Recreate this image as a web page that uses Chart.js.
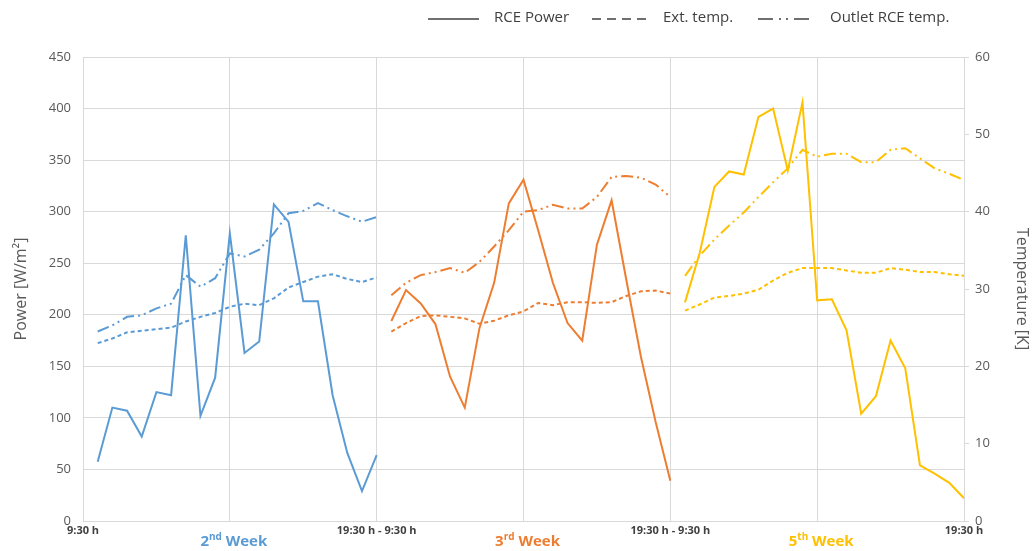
<!DOCTYPE html>
<html>
<head>
<meta charset="utf-8">
<script src="https://cdn.jsdelivr.net/npm/chart.js@4.4.1/dist/chart.umd.min.js"></script>
<style>
html,body{margin:0;padding:0;background:#fff;}
#wrap{width:1033px;height:551px;}
</style>
</head>
<body>
<div id="wrap"><canvas id="c" width="1033" height="551"></canvas></div>
<script>
// ---- data ----
const weekNums = ['2', '3', '5'];
const weekSuffix = ['nd', 'rd', 'th'];
const weekColors = ['#5B9BD5', '#ED7D31', '#FFC000'];
const pointsPerWeek = 20;

const xTickValues = [0, 20, 40, 60];
const xTickLabels = ['9:30 h', '19:30 h - 9:30 h', '19:30 h - 9:30 h', '19:30 h'];
const weekLabelValues = [10, 30, 50];

const seriesNames = ['RCE Power', 'Ext. temp.', 'Outlet RCE temp.'];

// RCE Power [W/m2]
const power2nd = [57.5, 110, 107, 82, 125, 122, 277, 102, 139, 279, 163, 174, 307, 290, 213, 213, 122, 66, 29, 64];
const power3rd = [194, 224, 211, 191, 140, 110, 187, 231, 308, 331, 282, 231, 192, 175, 268, 311, 234, 159, 96, 39];
const power5th = [212, 260, 324, 339, 336, 392, 400, 340, 406, 214, 215, 185, 104, 121, 175, 148, 54, 46, 37, 22];

// Ext. temp. [K]
const ext2nd = [23.0, 23.6, 24.4, 24.6, 24.8, 25.0, 25.8, 26.4, 26.9, 27.7, 28.1, 27.9, 28.8, 30.2, 30.9, 31.6, 31.9, 31.3, 30.9, 31.5];
const ext3rd = [24.5, 25.6, 26.5, 26.6, 26.4, 26.2, 25.5, 25.9, 26.6, 27.1, 28.2, 27.9, 28.3, 28.3, 28.2, 28.3, 29.1, 29.7, 29.8, 29.4];
const ext5th = [27.2, 28.0, 28.9, 29.1, 29.4, 29.9, 31.1, 32.1, 32.7, 32.7, 32.7, 32.4, 32.1, 32.1, 32.7, 32.5, 32.2, 32.2, 31.9, 31.7];

// Outlet RCE temp. [K]
const out2nd = [24.5, 25.3, 26.4, 26.6, 27.5, 28.1, 31.8, 30.3, 31.4, 34.6, 34.2, 35.1, 37.2, 39.8, 40.1, 41.1, 40.2, 39.4, 38.7, 39.3];
const out3rd = [29.2, 30.8, 31.8, 32.2, 32.7, 32.1, 33.5, 35.5, 37.6, 40.0, 40.2, 40.9, 40.4, 40.4, 41.9, 44.5, 44.6, 44.4, 43.5, 41.9];
const out5th = [31.7, 34.3, 36.4, 38.2, 39.9, 41.9, 43.8, 45.6, 48.0, 47.1, 47.5, 47.5, 46.4, 46.4, 48.0, 48.2, 46.9, 45.6, 44.9, 44.1];

const powerSeries = [power2nd, power3rd, power5th];
const extSeries = [ext2nd, ext3rd, ext5th];
const outSeries = [out2nd, out3rd, out5th];

// ---- styling ----
const FONT = '"Open Sans", "Liberation Sans", sans-serif';
Chart.defaults.font.family = FONT;
const GRID = '#d9d9d9';
const TXT = '#595959';
const extDash = [4, 3];
const outDash = [12, 4, 2, 4, 2, 4];

function toXY(values, weekIdx) {
  return values.map((v, j) => ({ x: weekIdx * pointsPerWeek + j + 1, y: v }));
}

const datasets = [];
weekNums.forEach((_, i) => {
  datasets.push({
    label: seriesNames[0], data: toXY(powerSeries[i], i), yAxisID: 'y',
    borderColor: weekColors[i], borderWidth: 2, pointRadius: 0, tension: 0, fill: false
  });
  datasets.push({
    label: seriesNames[1], data: toXY(extSeries[i], i), yAxisID: 'y1',
    borderColor: weekColors[i], borderWidth: 2, borderDash: extDash, pointRadius: 0, tension: 0, fill: false
  });
  datasets.push({
    label: seriesNames[2], data: toXY(outSeries[i], i), yAxisID: 'y1',
    borderColor: weekColors[i], borderWidth: 2, borderDash: outDash, pointRadius: 0, tension: 0, fill: false
  });
});

const legendLayout = [
  { x0: 428, x1: 479, tx: 494, dash: [] },
  { x0: 592, x1: 646, tx: 663, dash: [9, 6] },
  { x0: 758, x1: 810, tx: 830, dash: [15, 6, 2, 5, 2, 6] }
];

const customDraw = {
  id: 'customDraw',
  afterDraw(chart) {
    const ctx = chart.ctx;
    const xs = chart.scales.x;
    ctx.save();
    // legend
    const ly = 19;
    seriesNames.forEach((name, i) => {
      const L = legendLayout[i];
      ctx.beginPath();
      ctx.setLineDash(L.dash);
      ctx.strokeStyle = '#404040';
      ctx.lineWidth = 1.3;
      ctx.moveTo(L.x0, ly);
      ctx.lineTo(L.x1, ly);
      ctx.stroke();
      ctx.setLineDash([]);
      ctx.fillStyle = '#404040';
      ctx.font = '15px ' + FONT;
      ctx.textBaseline = 'middle';
      ctx.textAlign = 'left';
      ctx.fillText(name, L.tx, ly - 1);
    });
    // week labels
    ctx.textBaseline = 'alphabetic';
    weekNums.forEach((n, i) => {
      const cx = xs.getPixelForValue(weekLabelValues[i]) + 4;
      const base = 546;
      ctx.font = 'bold 15px ' + FONT;
      const w1 = ctx.measureText(n).width;
      const w3 = ctx.measureText(' Week').width;
      ctx.font = 'bold 10px ' + FONT;
      const w2 = ctx.measureText(weekSuffix[i]).width;
      let x = cx - (w1 + w2 + w3) / 2;
      ctx.fillStyle = weekColors[i];
      ctx.textAlign = 'left';
      ctx.font = 'bold 15px ' + FONT;
      ctx.fillText(n, x, base);
      x += w1;
      ctx.font = 'bold 10px ' + FONT;
      ctx.fillText(weekSuffix[i], x, base - 6);
      x += w2;
      ctx.font = 'bold 15px ' + FONT;
      ctx.fillText(' Week', x, base);
    });
    ctx.restore();
  }
};

const whiteBg = {
  id: 'whiteBg',
  beforeDraw(chart) {
    const ctx = chart.ctx;
    ctx.save();
    ctx.fillStyle = '#fff';
    ctx.fillRect(0, 0, chart.width, chart.height);
    ctx.restore();
  }
};

new Chart(document.getElementById('c'), {
  type: 'line',
  data: { datasets },
  plugins: [whiteBg, customDraw],
  options: {
    responsive: false,
    devicePixelRatio: 1,
    animation: false,
    layout: { padding: { top: 57, left: 0, right: 0, bottom: 0 } },
    plugins: {
      legend: { display: false },
      tooltip: { enabled: false }
    },
    scales: {
      x: {
        type: 'linear',
        min: 0, max: 60,
        afterBuildTicks(scale) {
          const t = [];
          for (let v = 0; v <= 60; v += 10) t.push({ value: v });
          scale.ticks = t;
        },
        ticks: {
          autoSkip: false, maxRotation: 0, minRotation: 0,
          color: '#404040',
          font: { size: 11, weight: 'bold' },
          padding: 3,
          callback(value) {
            const k = xTickValues.indexOf(value);
            return k >= 0 ? xTickLabels[k] : '';
          }
        },
        grid: { color: GRID, drawTicks: false, lineWidth: 1 },
        border: { color: GRID },
        afterFit(scale) { scale.height = 30; }
      },
      y: {
        position: 'left',
        min: 0, max: 450,
        ticks: { stepSize: 50, color: TXT, font: { size: 13 }, padding: 12 },
        grid: { color: GRID, drawTicks: false },
        border: { display: false },
        title: { display: true, text: 'Power [W/m²]', color: TXT, font: { size: 16 }, padding: { top: 12, bottom: 4 } },
        afterFit(scale) { scale.width = 83; }
      },
      y1: {
        position: 'right',
        min: 0, max: 60,
        ticks: { stepSize: 10, color: TXT, font: { size: 13 }, padding: 6 },
        grid: { drawOnChartArea: false, color: GRID, tickLength: 5 },
        border: { color: GRID },
        title: { display: true, text: 'Temperature [K]', color: TXT, font: { size: 16 }, padding: { top: 2, bottom: 4 } },
        afterFit(scale) { scale.width = 69; }
      }
    }
  }
});
</script>
</body>
</html>
